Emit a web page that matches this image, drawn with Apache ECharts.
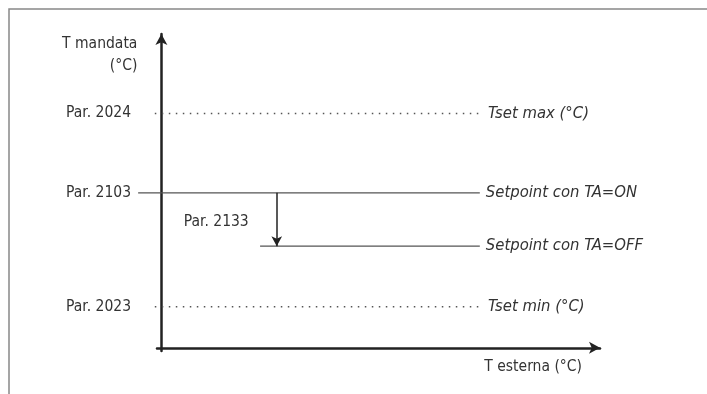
<!DOCTYPE html>
<html>
<head>
<meta charset="utf-8">
<script src="https://cdn.jsdelivr.net/npm/echarts@6/dist/echarts.min.js"></script>
<style>
  html, body { margin: 0; padding: 0; background: #fff; }
  #chart { width: 707px; height: 394px; }
</style>
</head>
<body>
<div id="chart"></div>
<script>
// y levels shown on the axis
const levelNames = ['Par. 2024', 'Par. 2103', 'Par. 2023']
const levelValues = [74.7, 49.4, 13.1]

// horizontal setpoint lines
const lineNames = ['Tset max (°C)', 'Setpoint con TA=ON', 'Setpoint con TA=OFF', 'Tset min (°C)']
const lineLevels = [74.7, 49.4, 32.4, 13.1]
const lineFrom = [-1.5, -5.3, 22.5, -1.5]
const lineTo = [73.1, 72.6, 72.6, 73.1]
const lineDotted = [true, false, false, true]

// drop arrow between ON and OFF
const dropName = 'Par. 2133'
const dropX = 26.3
const dropFrom = 49.4
const dropTo = 32.4

const FONT = '"Liberation Sans Narrow", "DejaVu Sans Condensed", sans-serif'
const TXT = '#333'

const chart = echarts.init(document.getElementById('chart'), null, { renderer: 'canvas' })

const lineRows = lineNames.map((n, i) => [lineFrom[i], lineTo[i], lineLevels[i]])

// custom series is not clipped, so the ON line can start left of the axis
function renderLine (params, api) {
  const i = params.dataIndex
  const a = api.coord([api.value(0), api.value(2)])
  const b = api.coord([api.value(1), api.value(2)])
  return {
    type: 'group',
    children: [{
      type: 'line',
      shape: { x1: a[0], y1: a[1], x2: b[0], y2: b[1] },
      style: lineDotted[i]
        ? { stroke: '#555', lineWidth: 1.5, lineDash: [1.5, 5.5] }
        : { stroke: '#555', lineWidth: 1.3 }
    }, {
      type: 'text',
      x: b[0] + 6,
      y: b[1],
      style: {
        text: lineNames[i],
        fill: TXT,
        font: 'italic 16.5px ' + FONT,
        verticalAlign: 'middle',
        align: 'left'
      }
    }]
  }
}

function renderDropLabel (params, api) {
  const p = api.coord([api.value(0), api.value(1)])
  return {
    type: 'text',
    x: p[0] - 28,
    y: p[1] + 2,
    style: {
      text: dropName,
      fill: TXT,
      font: '15.5px ' + FONT,
      verticalAlign: 'middle',
      align: 'right'
    }
  }
}

chart.setOption({
  animation: false,
  backgroundColor: '#fff',
  grid: { left: 157, right: 107, top: 34, bottom: 43 },
  xAxis: {
    type: 'value',
    min: -1,
    max: 100,
    name: 'T esterna (°C)',
    nameLocation: 'end',
    nameGap: 0,
    nameTextStyle: {
      align: 'right',
      verticalAlign: 'top',
      padding: [11, 18, 0, 0],
      color: TXT,
      fontFamily: FONT,
      fontSize: 15.5
    },
    axisLine: {
      onZero: true,
      symbol: ['none', 'arrow'],
      symbolSize: [9, 11],
      lineStyle: { color: '#222', width: 2.5 }
    },
    axisTick: { show: false },
    axisLabel: { show: false },
    splitLine: { show: false }
  },
  yAxis: {
    type: 'value',
    min: -1,
    max: 100,
    name: 'T mandata\n(°C)',
    nameLocation: 'end',
    nameGap: 1,
    nameTextStyle: {
      align: 'right',
      verticalAlign: 'top',
      lineHeight: 22,
      padding: [0, 24, 0, 0],
      color: TXT,
      fontFamily: FONT,
      fontSize: 15.5
    },
    axisLine: {
      onZero: true,
      symbol: ['none', 'arrow'],
      symbolSize: [9, 11],
      lineStyle: { color: '#222', width: 2.5 }
    },
    axisTick: { show: false },
    splitLine: { show: false },
    axisLabel: {
      customValues: levelValues,
      margin: 26,
      color: TXT,
      fontFamily: FONT,
      fontSize: 15.5,
      formatter: v => levelNames[levelValues.indexOf(v)] || ''
    }
  },
  graphic: [{
    type: 'polyline',
    silent: true,
    shape: { points: [[9, 394], [9, 9], [707, 9]] },
    style: { stroke: '#888', lineWidth: 1.5, fill: null }
  }],
  series: [{
    type: 'custom',
    silent: true,
    renderItem: renderLine,
    data: lineRows
  }, {
    type: 'custom',
    silent: true,
    renderItem: renderDropLabel,
    data: [[dropX, (dropFrom + dropTo) / 2]],
    markLine: {
      silent: true,
      symbol: ['none', 'arrow'],
      symbolSize: [8, 10],
      label: { show: false },
      lineStyle: { color: '#222', width: 1.5, type: 'solid' },
      data: [[{ coord: [dropX, dropFrom] }, { coord: [dropX, dropTo] }]]
    }
  }]
})
</script>
</body>
</html>
